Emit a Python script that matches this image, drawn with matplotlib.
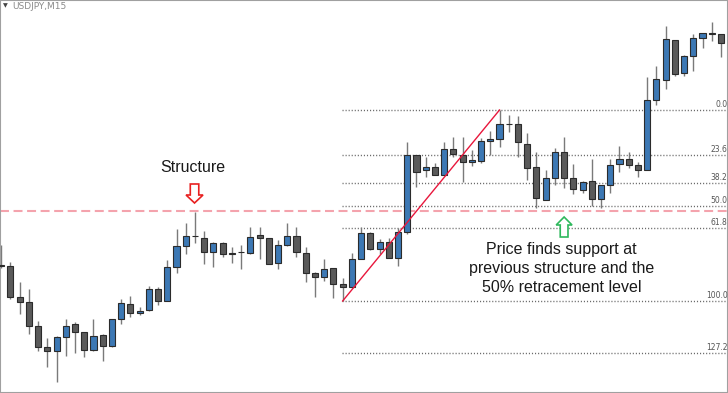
import matplotlib
matplotlib.use('Agg')
import matplotlib.pyplot as plt
from matplotlib.patches import Rectangle, Polygon

# -----------------------------
# Data (USDJPY M15)
# -----------------------------
opens = [109.35, 109.34, 109.03, 108.98, 108.74, 108.53, 108.49, 108.63, 108.76, 108.68,
         108.50, 108.65, 108.54, 108.81, 108.96, 108.87, 108.90, 109.11, 108.99, 109.33,
         109.54, 109.64, 109.62, 109.48, 109.57, 109.46, 109.48, 109.47, 109.65, 109.62,
         109.37, 109.55, 109.64, 109.47, 109.27, 109.23, 109.32, 109.16, 109.13, 109.41,
         109.67, 109.51, 109.58, 109.42, 109.68, 110.45, 110.30, 110.33, 110.25, 110.51,
         110.45, 110.38, 110.39, 110.59, 110.61, 110.76, 110.76, 110.56, 110.33, 110.00,
         110.22, 110.48, 110.22, 110.10, 110.19, 110.01, 110.15, 110.36, 110.41, 110.35,
         110.30, 111.00, 111.20, 111.60, 111.27, 111.44, 111.62, 111.66, 111.66]
highs = [109.55, 109.38, 109.18, 109.11, 108.79, 108.62, 108.64, 108.81, 108.78, 108.68,
         108.81, 108.66, 108.81, 109.01, 109.04, 108.93, 109.14, 109.13, 109.40, 109.71,
         109.77, 109.88, 109.69, 109.58, 109.58, 109.53, 109.55, 109.73, 109.73, 109.62,
         109.60, 109.77, 109.73, 109.53, 109.28, 109.41, 109.32, 109.22, 109.47, 109.73,
         109.68, 109.61, 109.62, 109.72, 110.58, 110.45, 110.43, 110.37, 110.58, 110.63,
         110.63, 110.50, 110.62, 110.69, 110.90, 110.85, 110.84, 110.67, 110.48, 110.30,
         110.52, 110.63, 110.36, 110.19, 110.41, 110.15, 110.41, 110.54, 110.48, 110.38,
         111.23, 111.34, 111.74, 111.60, 111.45, 111.66, 111.67, 111.78, 111.66]
lows = [109.32, 109.01, 108.86, 108.66, 108.49, 108.33, 108.18, 108.44, 108.47, 108.43,
        108.49, 108.39, 108.53, 108.76, 108.83, 108.85, 108.89, 108.95, 108.99, 109.27,
        109.46, 109.57, 109.36, 109.33, 109.43, 109.37, 109.31, 109.46, 109.41, 109.36,
        109.31, 109.54, 109.43, 109.18, 109.03, 109.19, 109.02, 108.99, 109.12, 109.41,
        109.50, 109.46, 109.42, 109.34, 109.66, 110.13, 110.23, 110.25, 110.25, 110.43,
        110.18, 110.34, 110.37, 110.45, 110.53, 110.68, 110.43, 110.20, 109.92, 110.00,
        110.15, 110.12, 110.06, 110.07, 109.94, 109.92, 110.07, 110.28, 110.32, 110.23,
        110.30, 110.95, 111.11, 111.24, 111.24, 111.29, 111.52, 111.59, 111.43]
closes = [109.34, 109.03, 108.98, 108.74, 108.53, 108.49, 108.63, 108.74, 108.68, 108.50,
          108.64, 108.54, 108.81, 108.97, 108.87, 108.89, 109.11, 108.99, 109.33, 109.54,
          109.64, 109.64, 109.48, 109.57, 109.46, 109.47, 109.48, 109.63, 109.62, 109.36,
          109.55, 109.64, 109.48, 109.27, 109.23, 109.31, 109.16, 109.13, 109.41, 109.67,
          109.51, 109.58, 109.42, 109.68, 110.45, 110.28, 110.33, 110.25, 110.51, 110.46,
          110.38, 110.40, 110.59, 110.61, 110.76, 110.76, 110.58, 110.32, 110.02, 110.22,
          110.48, 110.22, 110.11, 110.18, 110.01, 110.15, 110.35, 110.41, 110.35, 110.30,
          111.00, 111.21, 111.61, 111.26, 111.44, 111.62, 111.67, 111.67, 111.57]

# fibonacci retracement: swing low (bar 37) -> swing high (bar 54)
fib_low, fib_high = 108.99, 110.90
fib_start, fib_end = 37, 54
fib_levels = [0.0, 23.6, 38.2, 50.0, 61.8, 100.0, 127.2]
structure_level = 109.89

# -----------------------------
# Figure
# -----------------------------
fig = plt.figure(figsize=(7.28, 3.93), dpi=100)
ax = fig.add_axes([0, 0, 1, 1])
ax.set_xlim(-0.13, 78.76)
ax.set_ylim(108.07, 112.00)
ax.set_xticks([])
ax.set_yticks([])
for s in ax.spines.values():
    s.set_color('#a0a0a0')
    s.set_linewidth(1.5)

BLUE = '#3c78b4'
DARK = '#5a5a5a'
half_w = 0.33

# candles
for i, (o, h, l, c) in enumerate(zip(opens, highs, lows, closes)):
    ax.vlines(i, l, h, color='#7a7a7a', lw=1, zorder=2)
    bottom = min(o, c)
    height = max(abs(c - o), 0.004)
    face = BLUE if c > o else DARK
    ax.add_patch(Rectangle((i - half_w, bottom), 2 * half_w, height,
                           facecolor=face, edgecolor='#2b2b2b', lw=0.8, zorder=3))

# fib levels
x_right = ax.get_xlim()[1]
for lev in fib_levels:
    y = fib_high - (fib_high - fib_low) * lev / 100.0
    ax.plot([fib_start - 0.05, x_right], [y, y], color='#6a6a6a', lw=1,
            dashes=(0.8, 1.4), zorder=1)
    ax.text(x_right - 0.05, y + 0.008, f'{lev:.1f}', ha='right', va='bottom',
            fontsize=5.5, color='#555555', family='DejaVu Sans', zorder=5)

# trend line of the swing
ax.plot([fib_start, fib_end], [fib_low, fib_high], color='#e8173c', lw=1, zorder=4)

# previous structure level
ax.axhline(structure_level, color='#f4a3ad', lw=1.5, dashes=(4.3, 2.2), zorder=1)


def hollow_arrow(xc, tip, base, tail, shaft_hw, head_hw, color):
    pts = [(xc, tip), (xc - head_hw, base), (xc - shaft_hw, base),
           (xc - shaft_hw, tail), (xc + shaft_hw, tail), (xc + shaft_hw, base),
           (xc + head_hw, base)]
    ax.add_patch(Polygon(pts, closed=True, facecolor='white', edgecolor=color,
                         lw=1.2, zorder=6))


# down arrow over the structure high, up arrow under the support
hollow_arrow(20.95, 109.97, 110.05, 110.16, 0.46, 0.92, '#e82020')
hollow_arrow(61.0, 109.83, 109.75, 109.63, 0.42, 0.86, '#2eb85c')

# annotations
ax.text(20.8, 110.32, 'Structure', ha='center', va='center', fontsize=11.5,
        family='Liberation Sans', color='#1a1a1a', zorder=7)
ax.text(60.7, 109.315, 'Price finds support at\nprevious structure and the\n50% retracement level',
        ha='center', va='center', fontsize=11.5, family='Liberation Sans',
        color='#1a1a1a', linespacing=1.32, zorder=7)

# chart caption
ax.text(0.5, 111.94, '\u25bc', ha='center', va='center', fontsize=4.5, color='#444444')
ax.text(1.2, 111.93, 'USDJPY,M15', ha='left', va='center', fontsize=6.5,
        color='#8a8a8a', family='DejaVu Sans')

fig.savefig('out.png', dpi=100)
